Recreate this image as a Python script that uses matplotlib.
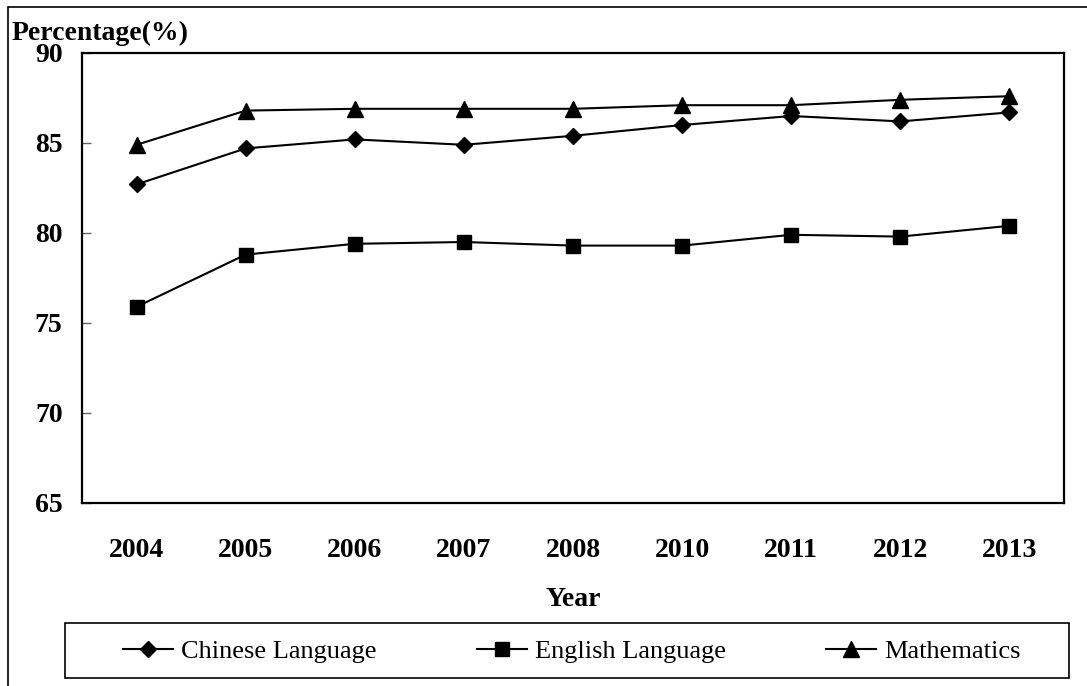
import matplotlib
matplotlib.use('Agg')
import matplotlib.pyplot as plt
from matplotlib.patches import Rectangle

years = ['2004', '2005', '2006', '2007', '2008', '2010', '2011', '2012', '2013']
chinese = [82.7, 84.7, 85.2, 84.9, 85.4, 86.0, 86.5, 86.2, 86.7]
english = [75.9, 78.8, 79.4, 79.5, 79.3, 79.3, 79.9, 79.8, 80.4]
maths = [84.9, 86.8, 86.9, 86.9, 86.9, 87.1, 87.1, 87.4, 87.6]
y_ticks = [65, 70, 75, 80, 85, 90]

plt.rcParams['font.family'] = ['Liberation Serif', 'DejaVu Serif']

W, H = 1087, 686
fig = plt.figure(figsize=(W / 100, H / 100), dpi=100)
ax = fig.add_axes([82 / W, 1 - 503 / H, (1064 - 82) / W, (503 - 53) / H])

x = list(range(len(years)))
ax.plot(x, chinese, color='black', lw=1.5, marker='D', ms=8, label='Chinese Language')
ax.plot(x, english, color='black', lw=1.5, marker='s', ms=10, label='English Language')
ax.plot(x, maths, color='black', lw=1.5, marker='^', ms=11, label='Mathematics')

ax.set_xlim(-0.5, len(years) - 0.5)
ax.set_ylim(65, 90)
ax.set_xticks(x)
ax.set_xticklabels(years, fontsize=20, fontweight='bold')
ax.set_yticks(y_ticks)
ax.set_yticklabels([str(v) for v in y_ticks], fontsize=20, fontweight='bold')
ax.tick_params(axis='x', length=0, pad=25)
ax.tick_params(axis='y', direction='in', length=6.5, width=1, color='#666666', pad=14)
for s in ax.spines.values():
    s.set_linewidth(1.6)

fig.text(573 / W, 1 - 600 / H, 'Year', ha='center', va='center', fontsize=20, fontweight='bold')
fig.text(12 / W, 1 - 33 / H, 'Percentage(%)', ha='left', va='center', fontsize=20, fontweight='bold')

# legend: entries centred, separate box drawn around them
leg = fig.legend(loc='center', ncol=3, bbox_to_anchor=(572 / W, 1 - 651 / H),
                 fontsize=19, frameon=False, handlelength=1.9, handletextpad=0.3,
                 columnspacing=3.8, borderaxespad=0)
fig.add_artist(Rectangle((65 / W, 1 - 678 / H), (1069 - 65) / W, 55 / H,
                         transform=fig.transFigure, fill=False, edgecolor='black', lw=1.2))

# outer frame (only left and top edges are visible in the picture)
fig.add_artist(Rectangle((8 / W, -0.1), 2, 1 - 7 / H + 0.1, transform=fig.transFigure,
                         fill=False, edgecolor='black', lw=1.2))

fig.savefig('out.png', dpi=100)
